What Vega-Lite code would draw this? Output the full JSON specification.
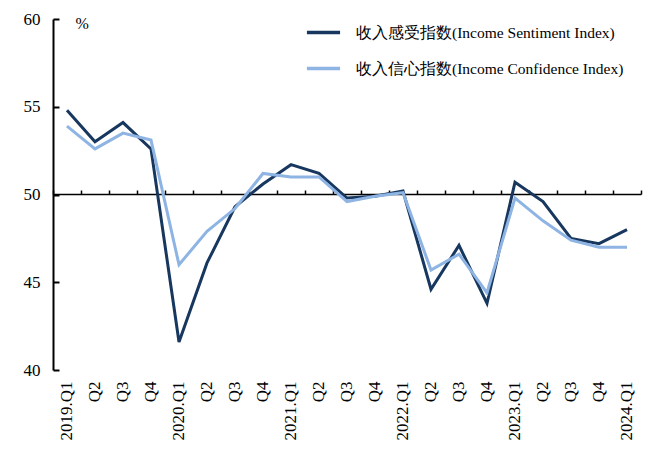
{
  "$schema": "https://vega.github.io/schema/vega-lite/v6.json",
  "width": 588,
  "height": 351,
  "autosize": {"type": "none"},
  "padding": {"left": 53, "top": 19, "right": 27, "bottom": 82},
  "background": "white",
  "config": {"view": {"stroke": null}, "font": "Liberation Serif"},
  "data": {"values": [
    {"q": "2019.Q1", "s": "收入感受指数(Income Sentiment Index)", "v": 54.8},
    {"q": "2019.Q2", "s": "收入感受指数(Income Sentiment Index)", "v": 53.0},
    {"q": "2019.Q3", "s": "收入感受指数(Income Sentiment Index)", "v": 54.1},
    {"q": "2019.Q4", "s": "收入感受指数(Income Sentiment Index)", "v": 52.6},
    {"q": "2020.Q1", "s": "收入感受指数(Income Sentiment Index)", "v": 41.6},
    {"q": "2020.Q2", "s": "收入感受指数(Income Sentiment Index)", "v": 46.1},
    {"q": "2020.Q3", "s": "收入感受指数(Income Sentiment Index)", "v": 49.3},
    {"q": "2020.Q4", "s": "收入感受指数(Income Sentiment Index)", "v": 50.6},
    {"q": "2021.Q1", "s": "收入感受指数(Income Sentiment Index)", "v": 51.7},
    {"q": "2021.Q2", "s": "收入感受指数(Income Sentiment Index)", "v": 51.2},
    {"q": "2021.Q3", "s": "收入感受指数(Income Sentiment Index)", "v": 49.8},
    {"q": "2021.Q4", "s": "收入感受指数(Income Sentiment Index)", "v": 49.9},
    {"q": "2022.Q1", "s": "收入感受指数(Income Sentiment Index)", "v": 50.2},
    {"q": "2022.Q2", "s": "收入感受指数(Income Sentiment Index)", "v": 44.6},
    {"q": "2022.Q3", "s": "收入感受指数(Income Sentiment Index)", "v": 47.1},
    {"q": "2022.Q4", "s": "收入感受指数(Income Sentiment Index)", "v": 43.8},
    {"q": "2023.Q1", "s": "收入感受指数(Income Sentiment Index)", "v": 50.7},
    {"q": "2023.Q2", "s": "收入感受指数(Income Sentiment Index)", "v": 49.6},
    {"q": "2023.Q3", "s": "收入感受指数(Income Sentiment Index)", "v": 47.5},
    {"q": "2023.Q4", "s": "收入感受指数(Income Sentiment Index)", "v": 47.2},
    {"q": "2024.Q1", "s": "收入感受指数(Income Sentiment Index)", "v": 48.0},
    {"q": "2019.Q1", "s": "收入信心指数(Income Confidence Index)", "v": 53.9},
    {"q": "2019.Q2", "s": "收入信心指数(Income Confidence Index)", "v": 52.6},
    {"q": "2019.Q3", "s": "收入信心指数(Income Confidence Index)", "v": 53.5},
    {"q": "2019.Q4", "s": "收入信心指数(Income Confidence Index)", "v": 53.1},
    {"q": "2020.Q1", "s": "收入信心指数(Income Confidence Index)", "v": 46.0},
    {"q": "2020.Q2", "s": "收入信心指数(Income Confidence Index)", "v": 47.9},
    {"q": "2020.Q3", "s": "收入信心指数(Income Confidence Index)", "v": 49.2},
    {"q": "2020.Q4", "s": "收入信心指数(Income Confidence Index)", "v": 51.2},
    {"q": "2021.Q1", "s": "收入信心指数(Income Confidence Index)", "v": 51.0},
    {"q": "2021.Q2", "s": "收入信心指数(Income Confidence Index)", "v": 51.0},
    {"q": "2021.Q3", "s": "收入信心指数(Income Confidence Index)", "v": 49.6},
    {"q": "2021.Q4", "s": "收入信心指数(Income Confidence Index)", "v": 49.9},
    {"q": "2022.Q1", "s": "收入信心指数(Income Confidence Index)", "v": 50.1},
    {"q": "2022.Q2", "s": "收入信心指数(Income Confidence Index)", "v": 45.7},
    {"q": "2022.Q3", "s": "收入信心指数(Income Confidence Index)", "v": 46.6},
    {"q": "2022.Q4", "s": "收入信心指数(Income Confidence Index)", "v": 44.4},
    {"q": "2023.Q1", "s": "收入信心指数(Income Confidence Index)", "v": 49.8},
    {"q": "2023.Q2", "s": "收入信心指数(Income Confidence Index)", "v": 48.5},
    {"q": "2023.Q3", "s": "收入信心指数(Income Confidence Index)", "v": 47.4},
    {"q": "2023.Q4", "s": "收入信心指数(Income Confidence Index)", "v": 47.0},
    {"q": "2024.Q1", "s": "收入信心指数(Income Confidence Index)", "v": 47.0}
  ]},
  "resolve": {"axis": {"x": "independent", "y": "independent"}},
  "layer": [
    {
      "mark": {"type": "line", "strokeWidth": 3},
      "encoding": {
        "x": {
          "field": "q", "type": "ordinal", "scale": {"paddingInner": 0, "paddingOuter": 0},
          "axis": {
            "orient": "bottom", "title": null, "domain": false, "ticks": false,
            "labelAngle": -90, "labelFontSize": 17, "labelColor": "#000", "labelPadding": 11,
            "labelFont": "Liberation Serif",
            "labelExpr": "indexof(datum.value, 'Q1') >= 0 ? datum.value : substring(datum.value, 5)"
          }
        },
        "y": {
          "field": "v", "type": "quantitative",
          "scale": {"domain": [40, 60], "nice": false, "zero": false},
          "axis": {
            "orient": "left", "values": [40, 45, 50, 55, 60], "grid": false, "title": "%",
            "titleAngle": 0, "titleX": 22, "titleY": 4, "titleAlign": "left", "titleBaseline": "middle",
            "titleFontSize": 16, "titleFontWeight": "normal", "titleFont": "Liberation Serif", "titleColor": "#000",
            "domain": false, "ticks": false,
            "labelFontSize": 17, "labelColor": "#000", "labelPadding": 13, "labelFont": "Liberation Serif"
          }
        },
        "color": {
          "field": "s", "type": "nominal",
          "scale": {
            "domain": ["收入感受指数(Income Sentiment Index)", "收入信心指数(Income Confidence Index)"],
            "range": ["#17375E", "#8EB4E3"]
          },
          "legend": {
            "title": null, "orient": "none", "legendX": 252, "legendY": -5,
            "symbolType": "stroke", "symbolSize": 1100, "symbolStrokeWidth": 3.5,
            "labelFontSize": 15.5, "labelColor": "#000", "labelOffset": 14, "rowPadding": 9,
            "labelLimit": 0, "labelFont": "Liberation Serif"
          }
        }
      }
    },
    {
      "mark": {"type": "rule", "stroke": "transparent"},
      "encoding": {
        "x": {
          "field": "q", "type": "ordinal",
          "axis": {
            "orient": "top", "title": null, "labels": false, "offset": -175,
            "domainColor": "#000", "domainWidth": 1.5, "tickColor": "#000", "tickWidth": 1.5,
            "tickSize": 4, "tickBand": "extent"
          }
        },
        "y": {
          "field": "v", "type": "quantitative",
          "axis": {
            "orient": "right", "values": [40, 45, 50, 55, 60], "grid": false, "title": null,
            "labels": false, "offset": -588,
            "domain": true, "domainColor": "#000", "domainWidth": 2,
            "tickColor": "#000", "tickWidth": 2, "tickSize": 6
          }
        }
      }
    }
  ]
}
